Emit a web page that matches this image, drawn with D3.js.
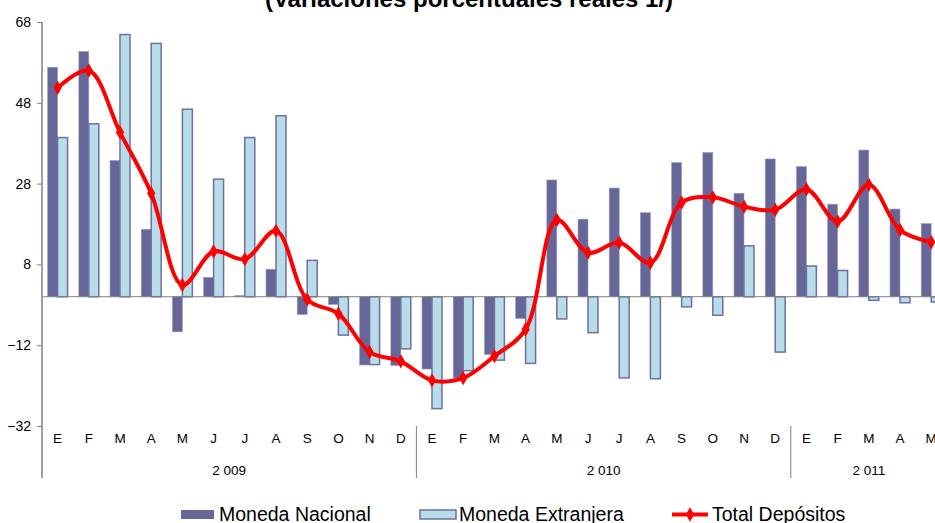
<!DOCTYPE html>
<html>
<head>
<meta charset="utf-8">
<script src="https://cdn.jsdelivr.net/npm/d3@7"></script>
<style>
  html, body { margin: 0; padding: 0; background: #fff; overflow: hidden; }
  svg { display: block; font-family: "Liberation Sans", Arial, sans-serif; }
</style>
</head>
<body>
<div class="chart"></div>
<script>
// Data
const months = ["E","F","M","A","M","J","J","A","S","O","N","D",
                "E","F","M","A","M","J","J","A","S","O","N","D",
                "E","F","M","A","M"]
const years = [{label: "2 009", from: 0, to: 12}, {label: "2 010", from: 12, to: 24}, {label: "2 011", from: 24, to: 29}]
const monedaNacional = [56.8, 60.7, 33.7, 16.7, -8.7, 4.8, 0.3, 6.8, -4.4, -1.9, -16.9, -17.0,
                        -17.9, -20.1, -14.3, -5.4, 28.9, 19.2, 26.9, 20.8, 33.2, 35.7, 25.6, 34.1,
                        32.2, 22.9, 36.3, 21.7, 18.1]
const monedaExtranjera = [39.4, 42.8, 64.9, 62.7, 46.4, 29.1, 39.4, 44.8, 9.0, -9.5, -16.8, -12.9,
                          -27.7, -18.3, -15.7, -16.5, -5.5, -8.9, -20.1, -20.3, -2.5, -4.6, 12.6, -13.7,
                          7.6, 6.5, -0.9, -1.5, -1.3]
const totalDepositos = [51.7, 56.0, 40.7, 25.6, 2.9, 11.2, 9.3, 16.3, -0.7, -4.2, -13.7, -16.0,
                        -20.7, -20.1, -14.7, -8.1, 19.0, 10.9, 13.4, 8.4, 23.3, 24.6, 22.3, 21.5,
                        26.6, 18.6, 27.7, 16.5, 13.5]
const yTicks = [-32, -12, 8, 28, 48, 68]
const seriesNames = ["Moneda Nacional", "Moneda Extranjera", "Total Depósitos"]

const width = 935
const height = 523
const left = 42
const step = 31.2

const svg = d3.select(".chart").append("svg")
  .attr("width", width)
  .attr("height", height)

const idx = d3.range(months.length)

const x = d3.scaleBand()
  .domain(idx)
  .range([left, left + step * months.length])
  .paddingInner(0.36)
  .paddingOuter(0.18)

const xs = d3.scaleBand()
  .domain(["mn", "me"])
  .range([0, x.bandwidth()])

const y = d3.scaleLinear()
  .domain([-32, 68])
  .range([426, 22])

// title (cut off at the top, as in the original)
svg.append("text")
  .attr("x", 469)
  .attr("y", 7)
  .attr("text-anchor", "middle")
  .style("font-weight", "bold")
  .style("font-size", "24px")
  .text("(Variaciones porcentuales reales 1/)")

// bars
svg.append("g").selectAll("rect")
  .data(idx)
  .join("rect")
    .attr("x", i => x(i) + xs("mn"))
    .attr("width", xs.bandwidth())
    .attr("y", i => y(Math.max(0, monedaNacional[i])))
    .attr("height", i => Math.abs(y(monedaNacional[i]) - y(0)))
    .attr("fill", "#666699")
    .attr("stroke", "#9a9abf")
    .attr("stroke-width", 0.6)

svg.append("g").selectAll("rect")
  .data(idx)
  .join("rect")
    .attr("x", i => x(i) + xs("me"))
    .attr("width", xs.bandwidth())
    .attr("y", i => y(Math.max(0, monedaExtranjera[i])))
    .attr("height", i => Math.abs(y(monedaExtranjera[i]) - y(0)))
    .attr("fill", "#b7dde8")
    .attr("stroke", "#6f6fa0")
    .attr("stroke-width", 1.5)

// zero line
svg.append("line")
  .attr("x1", left).attr("x2", width)
  .attr("y1", y(0)).attr("y2", y(0))
  .attr("stroke", "#808080")
  .attr("stroke-width", 1)

// y axis
const yAxis = svg.append("g")
  .attr("transform", `translate(${left},0)`)
  .call(d3.axisLeft(y).tickValues(yTicks).tickSize(5).tickPadding(6))
yAxis.select(".domain").remove()
yAxis.selectAll(".tick line").attr("stroke", "#808080")
yAxis.selectAll("text").style("font-size", "14px").attr("fill", "#000")
  .style("font-family", "'Liberation Sans', Arial, sans-serif")
svg.append("line")
  .attr("x1", left).attr("x2", left)
  .attr("y1", y(68)).attr("y2", 478)
  .attr("stroke", "#808080")
  .attr("stroke-width", 1.5)

// month labels
const xAxis = svg.append("g")
  .attr("transform", "translate(0,431)")
  .call(d3.axisBottom(x).tickSize(0).tickPadding(2).tickFormat(i => months[i]))
xAxis.select(".domain").remove()
xAxis.selectAll("text").style("font-size", "13.5px").attr("fill", "#000")
  .style("font-family", "'Liberation Sans', Arial, sans-serif")

// year labels and dividers
const yearX = d => left + step * d
svg.append("g").selectAll("text")
  .data(years)
  .join("text")
    .attr("x", d => (yearX(d.from) + yearX(d.to)) / 2)
    .attr("y", 475)
    .attr("text-anchor", "middle")
    .style("font-size", "13.5px")
    .text(d => d.label)
svg.append("g").selectAll("line")
  .data(years.slice(1))
  .join("line")
    .attr("x1", d => yearX(d.from)).attr("x2", d => yearX(d.from))
    .attr("y1", 426).attr("y2", 478)
    .attr("stroke", "#808080")
    .attr("stroke-width", 1)

// total line
const cx = i => x(i) + x.bandwidth() / 2
const line = d3.line()
  .x(i => cx(i))
  .y(i => y(totalDepositos[i]))
  .curve(d3.curveCatmullRom.alpha(0.5))

svg.append("path")
  .datum(idx)
  .attr("d", line)
  .attr("fill", "none")
  .attr("stroke", "#ff0000")
  .attr("stroke-width", 4)
  .attr("stroke-linejoin", "round")

const diamond = d3.symbol().type(d3.symbolDiamond).size(60)
svg.append("g").selectAll("path")
  .data(idx)
  .join("path")
    .attr("transform", i => `translate(${cx(i)},${y(totalDepositos[i])})`)
    .attr("d", diamond)
    .attr("fill", "#ff0000")

// legend
const legend = svg.append("g").style("font-size", "19.5px")
legend.append("rect")
  .attr("x", 181).attr("y", 510).attr("width", 33).attr("height", 9)
  .attr("fill", "#666699")
legend.append("text").attr("x", 219).attr("y", 521).text(seriesNames[0])
legend.append("rect")
  .attr("x", 420).attr("y", 510).attr("width", 36).attr("height", 9)
  .attr("fill", "#b7dde8").attr("stroke", "#6f6fa0").attr("stroke-width", 1.5)
legend.append("text").attr("x", 459).attr("y", 521).text(seriesNames[1])
legend.append("line")
  .attr("x1", 672).attr("x2", 708).attr("y1", 514.5).attr("y2", 514.5)
  .attr("stroke", "#ff0000").attr("stroke-width", 4)
legend.append("path")
  .attr("transform", "translate(690,514.5)")
  .attr("d", diamond)
  .attr("fill", "#ff0000")
legend.append("text").attr("x", 712).attr("y", 521).text(seriesNames[2])
</script>
</body>
</html>
